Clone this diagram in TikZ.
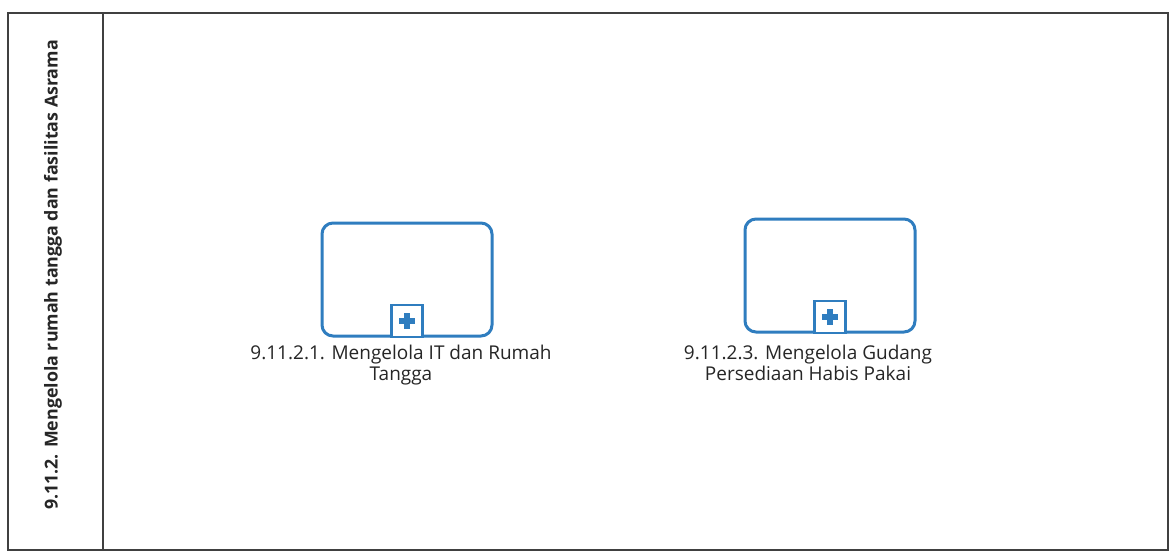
\documentclass[tikz,border=0pt]{standalone}
\usepackage{fontspec}
\setmainfont{Open Sans}
\begin{document}
\begin{tikzpicture}[x=1pt,y=-1pt,
  frame/.style={draw=black!75,line width=1.5pt},
  task/.style={draw=taskblue,line width=3pt,rounded corners=11pt,minimum width=170pt,minimum height=113pt,inner sep=0pt},
  marker/.style={draw=taskblue,line width=2.5pt,fill=white,minimum width=31pt,minimum height=32pt,inner sep=0pt,anchor=south},
  tasklabel/.style={align=center,font=\fontsize{19}{21}\selectfont,text=black!85,inner sep=0pt},
  lanelabel/.style={rotate=90,font=\bfseries\fontsize{17.8}{20}\selectfont,text=black!85,inner sep=0pt}]
\definecolor{taskblue}{HTML}{2F7DBF}
\useasboundingbox (0,0) rectangle (1172,552);
\fill[white] (0,0) rectangle (1172,552);
% pool frame
\draw[frame] (8,13) rectangle (1168,550);
\draw[frame,line width=2pt] (8,13) -- (1168,13);
\draw[frame] (103,13) -- (103,550);
\node[lanelabel] (lane) at (53,275) {9.11.2. Mengelola rumah tangga dan fasilitas Asrama};
% tasks
\node[task] (t1) at (407,279.5) {};
\node[marker] (m1) at ([yshift=-0.5pt]t1.south) {};
\fill[taskblue] ([xshift=-3.2pt,yshift=-8pt]m1.center) rectangle ([xshift=3.2pt,yshift=8pt]m1.center);
\fill[taskblue] ([xshift=-8pt,yshift=-3.2pt]m1.center) rectangle ([xshift=8pt,yshift=3.2pt]m1.center);
\node[tasklabel,anchor=north] (l1) at (401,345) {9.11.2.1. Mengelola IT dan Rumah\\Tangga};
\node[task] (t2) at (830,275.5) {};
\node[marker] (m2) at ([yshift=-0.5pt]t2.south) {};
\fill[taskblue] ([xshift=-3.2pt,yshift=-8pt]m2.center) rectangle ([xshift=3.2pt,yshift=8pt]m2.center);
\fill[taskblue] ([xshift=-8pt,yshift=-3.2pt]m2.center) rectangle ([xshift=8pt,yshift=3.2pt]m2.center);
\node[tasklabel,anchor=north] (l2) at (808,345) {9.11.2.3. Mengelola Gudang\\Persediaan Habis Pakai};
\end{tikzpicture}
\end{document}
